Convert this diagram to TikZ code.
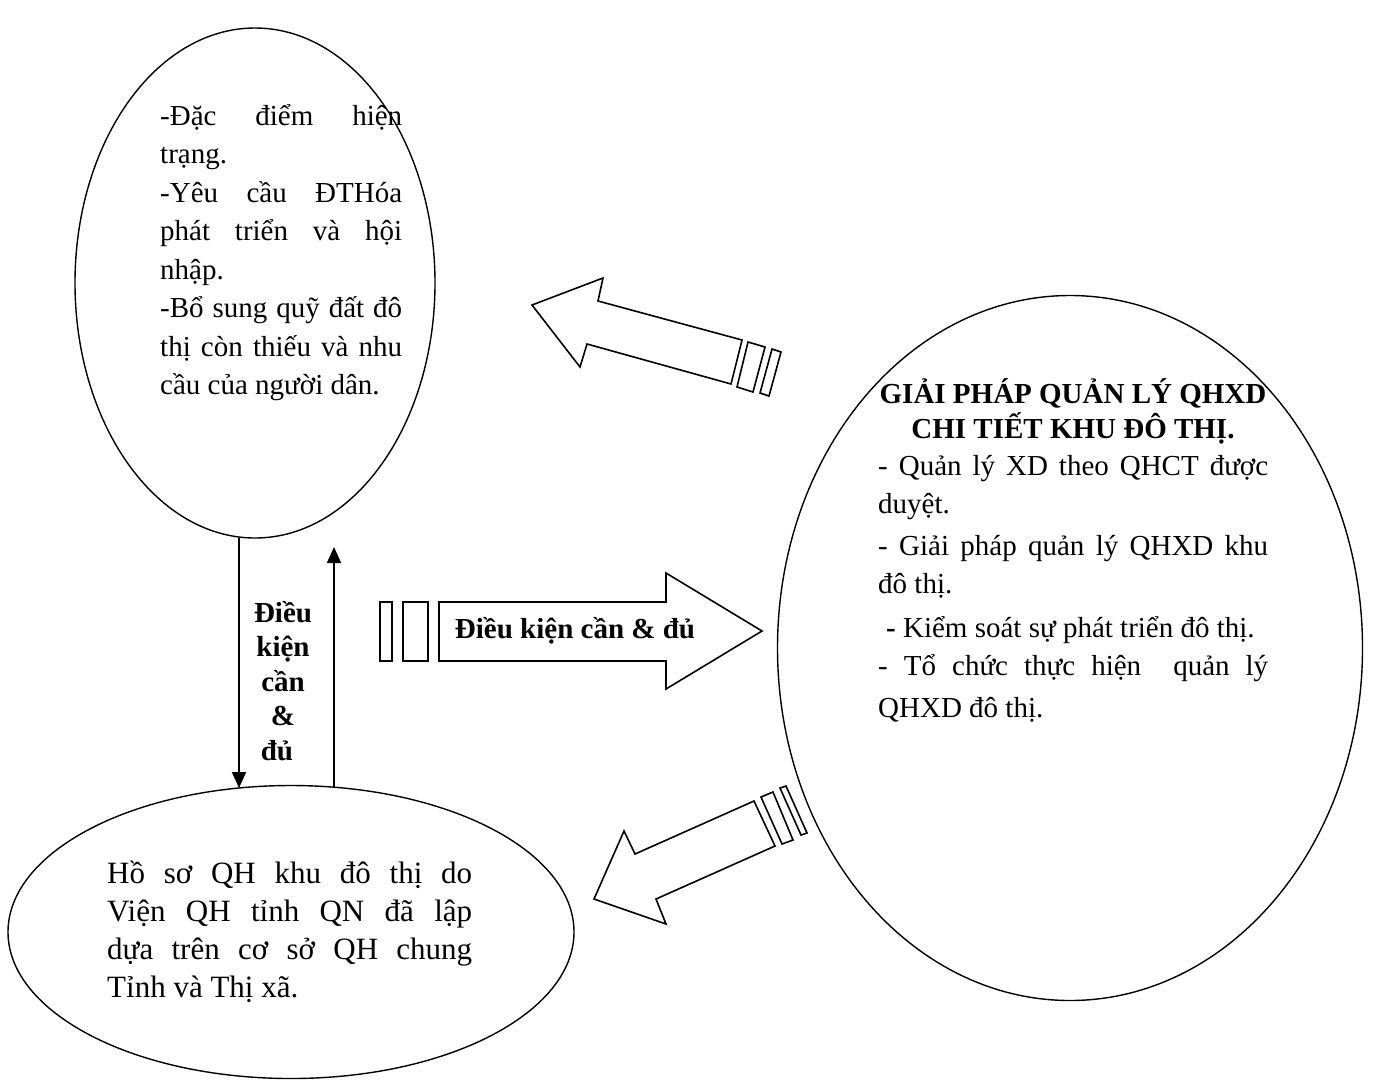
\documentclass[tikz,border=0pt]{standalone}
\usepackage{fontspec}
\setmainfont{Liberation Serif}
\usetikzlibrary{shapes.geometric,arrows.meta}
\newcommand{\jline}[1]{\makebox[\linewidth][s]{#1}}
\begin{document}
\begin{tikzpicture}[x=1pt,y=-1pt,
  oval/.style={ellipse,draw,line width=1.4pt,inner sep=0pt},
  blk/.style={draw,line width=1.6pt,line join=miter},
  vline/.style={line width=1.8pt,-{Triangle[width=14pt,length=16pt]}},
  txt/.style={inner sep=0pt,anchor=base west},
  ctxt/.style={inner sep=0pt,anchor=base}]
\useasboundingbox (0,0) rectangle (1380,1088);
\fill[white] (0,0) rectangle (1380,1088);

% ellipses
\node[oval,minimum width=360pt,minimum height=510pt] (e1) at (255,283) {};
\node[oval,minimum width=585pt,minimum height=705pt] (e2) at (1070,648) {};
\node[oval,minimum width=566pt,minimum height=293pt] (e3) at (291,932) {};

% texts
\node[txt] (t1) at (160,125) {\parbox[t]{242pt}{\fontsize{29}{38.5}\selectfont
\jline{-Đặc điểm hiện}\\
trạng.\\
\jline{-Yêu cầu ĐTHóa}\\
\jline{phát triển và hội}\\
nhập.\\
\jline{-Bổ sung quỹ đất đô}\\
\jline{thị còn thiếu và nhu}\\
cầu của người dân.}};

\node[ctxt] (t2a) at (1073,403) {\parbox[t]{420pt}{\centering\bfseries\fontsize{29}{35}\selectfont
GIẢI PHÁP QUẢN LÝ QHXD\\
CHI TIẾT KHU ĐÔ THỊ.}};

\node[txt] (t2b) at (878,475) {\parbox[t]{390pt}{\fontsize{29}{38}\selectfont
\jline{- Quản lý XD theo QHCT được}\\
duyệt.\\[4pt]
\jline{- Giải pháp quản lý QHXD khu}\\
đô thị.\\[6pt]
\hspace*{8pt}{\bfseries -} Kiểm soát sự phát triển đô thị.\\[0pt]
\jline{- Tổ chức thực hiện\ \ quản lý}\\[4pt]
QHXD đô thị.}};

\node[txt] (t3) at (107,883) {\parbox[t]{365pt}{\fontsize{31}{38.3}\selectfont
\jline{Hồ sơ QH khu đô thị do}\\
\jline{Viện QH tỉnh QN đã lập}\\
\jline{dựa trên cơ sở QH chung}\\
Tỉnh và Thị xã.}};

\node[ctxt] (lbl) at (283,622) {\parbox[t]{90pt}{\centering\bfseries\fontsize{29}{34.5}\selectfont
Điều\\kiện\\cần\\\&\\\hspace*{-12pt}đủ}};

% vertical arrows
\coordinate (dnA) at (239,538);
\coordinate (dnB) at (239,788);
\coordinate (upA) at (334,788);
\coordinate (upB) at (334,547);
\draw[vline] (dnA) -- (dnB);
\draw[vline] (upA) -- (upB);

% right block arrow
\draw[blk] (439,602) -- (666,602) -- (666,573) -- (762,631) -- (666,689) -- (666,661) -- (439,661) -- cycle;
\draw[blk] (380,602) rectangle (392,661);
\draw[blk] (403,602) rectangle (428,661);
\node[ctxt] (bt) at (575,638) {\bfseries\fontsize{29}{35}\selectfont Điều kiện cần \& đủ};

% upper-left block arrow
\draw[blk] (532,305) -- (603,278) -- (598,301) -- (742,340) -- (731,384) -- (587,344) -- (580,367) -- cycle;
\draw[blk] (748,342) -- (765,347) -- (753,392) -- (737,387) -- cycle;
\draw[blk] (772,349) -- (781,352) -- (769,396) -- (760,393) -- cycle;

% lower block arrow
\draw[blk] (594,899) -- (624,831) -- (635,854) -- (754,801) -- (775,846) -- (656,899) -- (666,924) -- cycle;
\draw[blk] (761,797) -- (773,792) -- (793,840) -- (782,844) -- cycle;
\draw[blk] (780,788) -- (786,786) -- (807,833) -- (801,835) -- cycle;
\end{tikzpicture}
\end{document}
